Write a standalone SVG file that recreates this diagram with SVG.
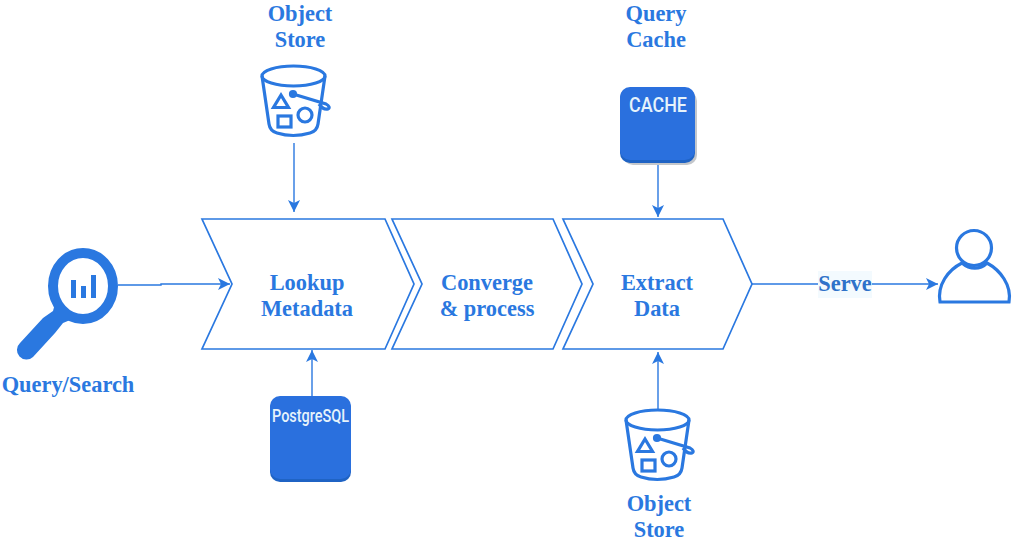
<svg xmlns="http://www.w3.org/2000/svg" width="1024" height="549" viewBox="0 0 1024 549">
<style>
.t{font-family:"Liberation Serif",serif;font-weight:700;font-size:22.4px;fill:#2a78e0;text-anchor:middle}
.s{fill:#fff;stroke:#2a78e0;stroke-width:1.7}
.l{fill:none;stroke:#2a78e0;stroke-width:1.4}
.i{fill:none;stroke:#2a78e0;stroke-width:3.2}
.d{font-family:"Roboto",sans-serif;font-weight:500;fill:#e6f3fb;text-anchor:middle}
</style>
<defs>
<marker id="a" markerUnits="userSpaceOnUse" markerWidth="14" markerHeight="14" refX="12" refY="6" orient="auto"><path d="M0 0L12 6L0 12L3 6Z" fill="#2a78e0"/></marker>
<g id="bucket" class="i">
<ellipse cx="293.500" cy="76" rx="31.500" ry="10"/>
<path d="M262 76L269 124Q270 131 277 133Q293 138 310 133Q317 131 318 124L325 76"/>
<path d="M293 94L326 104Q331 107 328 109Q323 110 319 104"/>
<circle cx="293" cy="94" r="2.500" fill="#2a78e0"/>
<path d="M281 95L273.500 107.500H288.500Z"/>
<rect x="278" y="116" width="13" height="11"/>
<circle cx="305" cy="115" r="7"/>
</g>
</defs>
<rect width="1024" height="549" fill="#fff"/>
<g id="connectors">
<path class="l" d="M294 143V212" marker-end="url(#a)"/>
<path class="l" d="M658 163V217" marker-end="url(#a)"/>
<path class="l" d="M118 285H161V284H230" marker-end="url(#a)"/>
<path class="l" d="M312 396V350" marker-end="url(#a)"/>
<path class="l" d="M658 409V352" marker-end="url(#a)"/>
<path class="l" d="M752 284H938" marker-end="url(#a)"/>
</g>
<g id="lookup"><path class="s" d="M202 219H385L414 284L385 349H202L232 284Z"/><text class="t" x="307" y="289.500">Lookup</text><text class="t" x="307" y="315.500">Metadata</text></g>
<g id="converge"><path class="s" d="M392 219H553L582 284L553 349H392L422 284Z"/><text class="t" x="487" y="289.500">Converge</text><text class="t" x="487" y="315.500">&amp; process</text></g>
<g id="extract"><path class="s" d="M563 219H723L752 284L723 349H563L593 284Z"/><text class="t" x="657" y="289.500">Extract</text><text class="t" x="657" y="315.500">Data</text></g>
<g id="store-top"><text class="t" x="300" y="20.500">Object</text><text class="t" x="300" y="46.500">Store</text><use href="#bucket"/></g>
<g id="store-bottom"><use href="#bucket" x="364" y="344"/><text class="t" x="659" y="510.500">Object</text><text class="t" x="659" y="536.500">Store</text></g>
<g id="cache"><text class="t" x="656" y="20.500">Query</text><text class="t" x="656" y="46.500">Cache</text>
<rect x="623" y="91" width="74" height="74" rx="10" fill="#c4c7cb"/>
<rect x="620" y="88" width="75" height="75" rx="10" fill="#1f63c4"/>
<rect x="620" y="87" width="75" height="73" rx="10" fill="#2a70de"/>
<text class="d" x="658" y="112" style="font-size:20px" textLength="58" lengthAdjust="spacingAndGlyphs">CACHE</text></g>
<g id="postgres">
<rect x="270" y="398" width="81" height="84" rx="10" fill="#1f63c4"/>
<rect x="270" y="396" width="81" height="83" rx="10" fill="#2a70de"/>
<text class="d" x="310.500" y="422" style="font-size:18px" textLength="77" lengthAdjust="spacingAndGlyphs">PostgreSQL</text></g>
<g id="search">
<ellipse cx="83" cy="286" rx="30" ry="33" fill="none" stroke="#2a78e0" stroke-width="10"/>
<path d="M56 300L53 311L43 318L20 343A9 9 0 0 0 33 357L55 333L63 323L75 318Z" fill="#2a78e0"/>
<path d="M71 280h5v18h-5zM81 286h5v12h-5zM91 275h5v23h-5z" fill="#2a78e0"/>
<text class="t" x="68" y="391.500">Query/Search</text></g>
<g id="user">
<circle cx="974" cy="248" r="17.500" class="i"/>
<path class="i" d="M940 302C937 285 948 270 962 263C970 270 980 270 987 263C1000 270 1012 285 1009 302Z"/></g>
<g id="serve"><rect x="818" y="271" width="54" height="27" fill="#f3fafe"/><text class="t" x="845" y="291" style="fill:#2f72c9">Serve</text></g>
</svg>
